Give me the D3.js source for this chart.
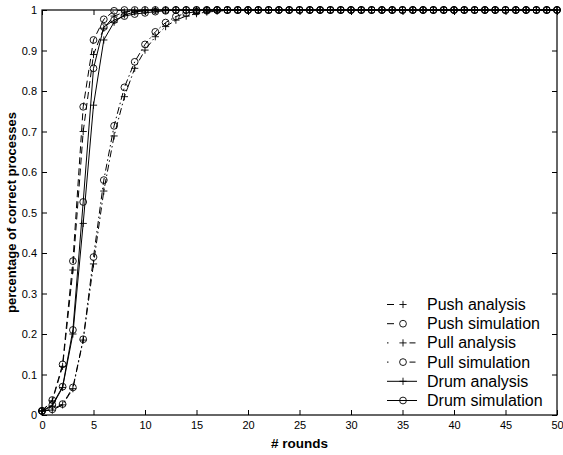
<!DOCTYPE html>
<html>
<head>
<meta charset="utf-8">
<script src="https://cdn.jsdelivr.net/npm/d3@7/dist/d3.min.js"></script>
<style>
  body { margin: 0; background: #fff; }
  svg { display: block; font-family: "Liberation Sans", Arial, Helvetica, sans-serif; }
</style>
</head>
<body>
<script>
let width = 563;
let height = 455;
let margin = { top: 10, right: 6, bottom: 40, left: 42 };

// rounds 0..50
var rounds = d3.range(0, 51);

var xTicks = [0, 5, 10, 15, 20, 25, 30, 35, 40, 45, 50];
var yTicks = [0, 0.1, 0.2, 0.3, 0.4, 0.5, 0.6, 0.7, 0.8, 0.9, 1];

var pushAnalysis = [0.01, 0.035, 0.12, 0.358, 0.70, 0.89, 0.955, 0.985, 0.995, 0.998,
  1, 1, 1, 1, 1, 1, 1, 1, 1, 1,
  1, 1, 1, 1, 1, 1, 1, 1, 1, 1,
  1, 1, 1, 1, 1, 1, 1, 1, 1, 1,
  1, 1, 1, 1, 1, 1, 1, 1, 1, 1, 1];

var pushSimulation = [0.01, 0.037, 0.125, 0.38, 0.761, 0.926, 0.977, 0.998, 1, 1,
  1, 1, 1, 1, 1, 1, 1, 1, 1, 1,
  1, 1, 1, 1, 1, 1, 1, 1, 1, 1,
  1, 1, 1, 1, 1, 1, 1, 1, 1, 1,
  1, 1, 1, 1, 1, 1, 1, 1, 1, 1, 1];

var pullAnalysis = [0.01, 0.012, 0.025, 0.065, 0.185, 0.373, 0.553, 0.689, 0.786, 0.856,
  0.901, 0.934, 0.959, 0.975, 0.985, 0.991, 0.995, 0.997, 0.999, 1,
  1, 1, 1, 1, 1, 1, 1, 1, 1, 1,
  1, 1, 1, 1, 1, 1, 1, 1, 1, 1,
  1, 1, 1, 1, 1, 1, 1, 1, 1, 1, 1];

var pullSimulation = [0.01, 0.014, 0.027, 0.068, 0.187, 0.39, 0.58, 0.714, 0.809, 0.872,
  0.915, 0.946, 0.969, 0.984, 0.992, 0.996, 0.998, 1, 1, 1,
  1, 1, 1, 1, 1, 1, 1, 1, 1, 1,
  1, 1, 1, 1, 1, 1, 1, 1, 1, 1,
  1, 1, 1, 1, 1, 1, 1, 1, 1, 1, 1];

var drumAnalysis = [0.01, 0.022, 0.068, 0.2, 0.473, 0.765, 0.926, 0.97, 0.988, 0.995,
  0.998, 1, 1, 1, 1, 1, 1, 1, 1, 1,
  1, 1, 1, 1, 1, 1, 1, 1, 1, 1,
  1, 1, 1, 1, 1, 1, 1, 1, 1, 1,
  1, 1, 1, 1, 1, 1, 1, 1, 1, 1, 1];

var drumSimulation = [0.01, 0.025, 0.07, 0.21, 0.526, 0.856, 0.958, 0.975, 0.985, 0.99,
  0.993, 0.996, 0.998, 1, 1, 1, 1, 1, 1, 1,
  1, 1, 1, 1, 1, 1, 1, 1, 1, 1,
  1, 1, 1, 1, 1, 1, 1, 1, 1, 1,
  1, 1, 1, 1, 1, 1, 1, 1, 1, 1, 1];

// line style and marker per series, in legend order
var series = [
  { name: 'Push analysis',   values: pushAnalysis,   dash: '7,4',          legendDash: '7,30',        marker: 'plus' },
  { name: 'Push simulation', values: pushSimulation, dash: '7,4',          legendDash: '7,30',        marker: 'circle' },
  { name: 'Pull analysis',   values: pullAnalysis,   dash: '7,3,1.5,3',    legendDash: '1.5,21,6,10', marker: 'plus' },
  { name: 'Pull simulation', values: pullSimulation, dash: '7,3,1.5,3',    legendDash: '1.5,21,6,10', marker: 'circle' },
  { name: 'Drum analysis',   values: drumAnalysis,   dash: null,           legendDash: null,          marker: 'plus' },
  { name: 'Drum simulation', values: drumSimulation, dash: null,           legendDash: null,          marker: 'circle' }
];

var svg = d3.select('body')
            .append('svg')
            .attr('width', width)
            .attr('height', height);

var plotW = width - margin.left - margin.right;
var plotH = height - margin.top - margin.bottom;

var x = d3.scaleLinear().domain([0, 50]).range([0, plotW]);
var y = d3.scaleLinear().domain([0, 1]).range([plotH, 0]);

var g = svg.append('g').attr('transform', 'translate(' + margin.left + ',' + margin.top + ')');

// axes, ticks pointing inwards on all four sides
var fmt = d3.format('');

g.append('g')
  .attr('transform', 'translate(0,' + plotH + ')')
  .call(d3.axisBottom(x).tickValues(xTicks).tickSize(-5).tickPadding(6).tickFormat(fmt));

g.append('g')
  .call(d3.axisLeft(y).tickValues(yTicks).tickSize(-5).tickPadding(5).tickFormat(fmt));

g.append('g')
  .call(d3.axisTop(x).tickValues(xTicks).tickSize(-5).tickFormat(''));

g.append('g')
  .attr('transform', 'translate(' + plotW + ',0)')
  .call(d3.axisRight(y).tickValues(yTicks).tickSize(-5).tickFormat(''));

g.selectAll('.domain').remove();
g.selectAll('.tick line').attr('stroke', '#000').attr('stroke-width', 1);
g.selectAll('.tick text').attr('font-size', 11).attr('fill', '#000')
  .attr('font-family', '"Liberation Sans", Arial, sans-serif');

g.append('rect')
  .attr('x', 0).attr('y', 0)
  .attr('width', plotW).attr('height', plotH)
  .attr('fill', 'none').attr('stroke', '#000').attr('stroke-width', 1.2);

// axis titles
svg.append('text')
  .attr('x', margin.left + plotW / 2).attr('y', 448)
  .attr('text-anchor', 'middle').attr('font-weight', 'bold').attr('font-size', 13.5)
  .text('# rounds');

svg.append('text')
  .attr('transform', 'translate(16,' + (margin.top + plotH / 2) + ') rotate(-90)')
  .attr('text-anchor', 'middle').attr('font-weight', 'bold').attr('font-size', 13)
  .text('percentage of correct processes');

function drawMarker(sel, type) {
  if (type === 'circle') {
    sel.append('circle').attr('r', 3.4).attr('fill', 'none').attr('stroke', '#000').attr('stroke-width', 0.9);
  } else {
    sel.append('path').attr('d', 'M-3.6,0H3.6M0,-3.6V3.6').attr('fill', 'none').attr('stroke', '#000').attr('stroke-width', 0.9);
  }
}

var line = d3.line()
  .x(function(d, i) { return x(rounds[i]); })
  .y(function(d) { return y(d); });

for (var i = 0; i < series.length; i++) {
  var s = series[i];

  g.append('path')
    .datum(s.values)
    .attr('d', line)
    .attr('fill', 'none')
    .attr('stroke', '#000')
    .attr('stroke-width', 1)
    .attr('stroke-dasharray', s.dash);

  var marks = g.append('g').selectAll('g')
    .data(s.values)
    .join('g')
    .attr('transform', function(d, j) { return 'translate(' + x(rounds[j]) + ',' + y(d) + ')'; });

  drawMarker(marks, s.marker);
}

// legend (no box)
var legend = svg.append('g');
for (var k = 0; k < series.length; k++) {
  var row = legend.append('g').attr('transform', 'translate(0,' + (310 + k * 19.2) + ')');

  row.append('line')
    .attr('x1', 387).attr('x2', 417)
    .attr('y1', -5.5).attr('y2', -5.5)
    .attr('stroke', '#000').attr('stroke-width', 1)
    .attr('stroke-dasharray', series[k].legendDash);

  drawMarker(row.append('g').attr('transform', 'translate(403,-5.5)'), series[k].marker);

  row.append('text')
    .attr('x', 427).attr('y', 0)
    .attr('font-size', 16)
    .text(series[k].name);
}
</script>
</body>
</html>
